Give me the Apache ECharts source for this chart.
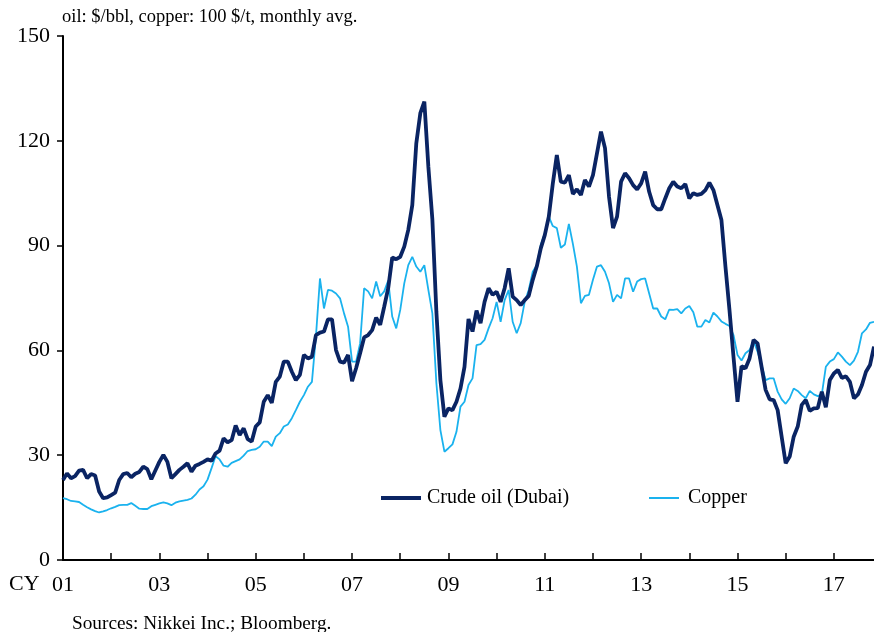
<!DOCTYPE html>
<html>
<head>
<meta charset="utf-8">
<script src="https://cdn.jsdelivr.net/npm/echarts@6/dist/echarts.min.js"></script>
<style>
  html, body { margin: 0; padding: 0; background: #fff; }
  #chart { width: 874px; height: 632px; }
</style>
</head>
<body>
<div id="chart"></div>
<script>
// monthly, Jan 2001 - Nov 2017
var months = [];
for (var y = 2001; y <= 2017; y++) {
  for (var m = 1; m <= 12; m++) {
    if (y === 2017 && m > 11) break;
    months.push(y + '-' + (m < 10 ? '0' + m : m));
  }
}

// Crude oil (Dubai), $/bbl
var oil2001 = [22.9, 24.8, 23.4, 24.0, 25.6, 25.8, 23.4, 24.6, 24.2, 19.6, 17.7, 17.9];
var oil2002 = [18.6, 19.3, 22.9, 24.6, 24.9, 23.7, 24.7, 25.2, 26.7, 26.0, 23.1, 25.6];
var oil2003 = [28.1, 30.1, 28.1, 23.4, 24.6, 25.8, 26.7, 27.7, 25.3, 27.0, 27.5, 28.1];
var oil2004 = [28.8, 28.4, 30.5, 31.3, 34.8, 33.7, 34.3, 38.5, 35.8, 37.7, 34.6, 33.9];
var oil2005 = [38.2, 39.4, 45.3, 47.2, 45.0, 51.0, 52.5, 56.8, 56.8, 53.9, 51.5, 53.0];
var oil2006 = [58.7, 57.7, 58.2, 64.4, 65.1, 65.4, 68.9, 68.9, 60.1, 56.8, 56.5, 58.7];
var oil2007 = [51.2, 54.9, 59.2, 63.7, 64.4, 65.8, 69.4, 67.3, 72.5, 77.8, 86.6, 86.1];
var oil2008 = [86.8, 89.7, 94.5, 101.6, 119.3, 127.9, 131.2, 112.6, 97.5, 71.0, 51.5, 41.0];
var oil2009 = [43.4, 42.9, 45.3, 49.1, 55.3, 69.0, 65.4, 71.4, 67.8, 73.9, 77.8, 75.9];
var oil2010 = [76.8, 73.9, 77.8, 83.5, 75.4, 74.4, 73.0, 74.4, 75.6, 80.2, 84.0, 89.2];
var oil2011 = [93.0, 98.3, 107.8, 115.9, 108.3, 108.0, 110.2, 104.8, 106.1, 104.5, 108.8, 106.9];
var oil2012 = [110.2, 116.4, 122.6, 117.9, 104.0, 95.0, 98.3, 108.3, 110.7, 109.3, 107.3, 106.1];
var oil2013 = [107.8, 111.2, 105.4, 101.6, 100.4, 100.4, 103.5, 106.4, 108.3, 106.9, 106.4, 107.6];
var oil2014 = [103.5, 105.0, 104.5, 104.8, 105.9, 108.0, 105.9, 101.6, 97.3, 84.0, 71.6, 58.2];
var oil2015 = [45.3, 55.5, 54.9, 57.7, 63.0, 62.0, 55.3, 48.7, 46.0, 45.8, 42.9, 35.3];
var oil2016 = [27.7, 29.6, 35.3, 38.2, 44.4, 45.8, 42.7, 43.4, 43.5, 48.2, 43.7, 51.5];
var oil2017 = [53.4, 54.4, 52.1, 52.6, 51.0, 46.3, 47.4, 50.1, 53.9, 55.8, 61.1];

// Copper, 100 $/t
var cu2001 = [17.7, 17.4, 16.9, 16.8, 16.6, 15.8, 15.1, 14.5, 14.0, 13.6, 13.9, 14.3];
var cu2002 = [14.8, 15.2, 15.7, 15.8, 15.8, 16.3, 15.5, 14.7, 14.6, 14.6, 15.4, 15.8];
var cu2003 = [16.2, 16.5, 16.2, 15.7, 16.4, 16.8, 17.0, 17.2, 17.6, 18.7, 20.2, 21.1];
var cu2004 = [23.0, 26.3, 29.7, 28.8, 27.0, 26.7, 27.8, 28.3, 28.8, 29.9, 31.2, 31.5];
var cu2005 = [31.7, 32.4, 33.9, 33.9, 32.6, 35.3, 36.3, 38.2, 38.8, 40.6, 42.9, 45.3];
var cu2006 = [47.2, 49.6, 51.0, 64.0, 80.6, 72.0, 77.3, 77.1, 76.3, 74.9, 70.6, 66.8];
var cu2007 = [56.8, 56.8, 62.0, 77.8, 76.9, 74.9, 79.7, 75.5, 76.9, 80.0, 69.7, 66.3];
var cu2008 = [71.6, 79.2, 84.4, 86.8, 84.0, 82.5, 84.4, 77.3, 70.6, 50.6, 37.2, 31.0];
var cu2009 = [32.0, 33.1, 36.7, 43.9, 45.3, 50.1, 52.0, 61.5, 61.8, 63.0, 66.3, 69.2];
var cu2010 = [73.9, 68.2, 74.4, 77.3, 68.2, 64.9, 67.8, 73.9, 77.3, 82.5, 84.4, 90.2];
var cu2011 = [93.5, 98.3, 95.6, 95.0, 89.4, 90.3, 96.2, 90.5, 84.0, 73.5, 75.6, 75.9];
var cu2012 = [80.2, 84.0, 84.4, 82.5, 79.2, 73.9, 75.9, 74.9, 80.6, 80.6, 76.8, 79.7];
var cu2013 = [80.4, 80.6, 76.3, 72.0, 72.0, 69.7, 68.9, 71.7, 71.6, 71.8, 70.6, 72.0];
var cu2014 = [72.7, 70.9, 66.8, 66.8, 68.7, 68.0, 70.8, 69.7, 68.3, 67.6, 67.0, 64.4];
var cu2015 = [58.7, 57.1, 59.2, 60.1, 62.8, 59.6, 55.8, 51.5, 52.0, 52.0, 48.2, 46.0];
var cu2016 = [44.7, 46.3, 49.1, 48.4, 47.2, 46.3, 48.4, 47.4, 46.9, 47.4, 55.3, 56.8];
var cu2017 = [57.5, 59.4, 58.2, 56.8, 55.8, 57.1, 59.6, 64.9, 66.0, 67.9, 68.2];

var oilData = [].concat(oil2001, oil2002, oil2003, oil2004, oil2005, oil2006, oil2007, oil2008,
  oil2009, oil2010, oil2011, oil2012, oil2013, oil2014, oil2015, oil2016, oil2017);
var copperData = [].concat(cu2001, cu2002, cu2003, cu2004, cu2005, cu2006, cu2007, cu2008,
  cu2009, cu2010, cu2011, cu2012, cu2013, cu2014, cu2015, cu2016, cu2017);

var serif = '"Liberation Serif", "Times New Roman", serif';
var oilColor = '#0a2463';
var cuColor = '#1ab2ee';

var myChart = echarts.init(document.getElementById('chart'));
myChart.setOption({
  animation: false,
  textStyle: { fontFamily: serif },
  grid: { left: 63, right: 0, top: 36, bottom: 72 },
  graphic: [
    { type: 'text', left: 62, top: 8,
      style: { text: 'oil: $/bbl, copper: 100 $/t, monthly avg.', fontFamily: serif, fontSize: 18.5, fill: '#000' } },
    { type: 'text', left: 9, top: 573,
      style: { text: 'CY', fontFamily: serif, fontSize: 22, fill: '#000' } },
    { type: 'text', left: 72, top: 614,
      style: { text: 'Sources: Nikkei Inc.; Bloomberg.', fontFamily: serif, fontSize: 19.3, fill: '#000' } }
  ],
  // two legends so each sample line keeps its own thickness
  legend: [
    {
      left: 376, top: 483,
      icon: 'rect', itemWidth: 40, itemHeight: 4,
      textStyle: { fontFamily: serif, fontSize: 20, color: '#000', padding: [0, 0, 0, 1] },
      data: ['Crude oil (Dubai)']
    },
    {
      left: 644, top: 483,
      icon: 'rect', itemWidth: 30, itemHeight: 2,
      textStyle: { fontFamily: serif, fontSize: 20, color: '#000', padding: [0, 0, 0, 4] },
      data: ['Copper']
    }
  ],
  xAxis: {
    type: 'category',
    boundaryGap: false,
    data: months,
    axisLine: { lineStyle: { color: '#000', width: 2 } },
    axisTick: {
      inside: true,
      length: 7,
      interval: function (i) { return i % 12 === 0; },
      lineStyle: { color: '#000', width: 1.5 }
    },
    axisLabel: {
      interval: function (i) { return i % 24 === 0; },
      formatter: function (v) { return v.substr(2, 2); },
      fontFamily: serif,
      fontSize: 22,
      color: '#000',
      margin: 14
    },
    splitLine: { show: false }
  },
  yAxis: {
    type: 'value',
    min: 0,
    max: 150,
    interval: 30,
    axisLine: { show: true, lineStyle: { color: '#000', width: 2 } },
    axisTick: { show: true, length: 6, lineStyle: { color: '#000', width: 1.5 } },
    axisLabel: { fontFamily: serif, fontSize: 22, color: '#000', margin: 13 },
    splitLine: { show: false }
  },
  series: [
    {
      name: 'Crude oil (Dubai)',
      type: 'line',
      data: oilData,
      symbol: 'none',
      z: 3,
      lineStyle: { color: oilColor, width: 3.8 },
      itemStyle: { color: oilColor }
    },
    {
      name: 'Copper',
      type: 'line',
      data: copperData,
      symbol: 'none',
      z: 2,
      lineStyle: { color: cuColor, width: 1.8 },
      itemStyle: { color: cuColor }
    }
  ]
});
</script>
</body>
</html>
